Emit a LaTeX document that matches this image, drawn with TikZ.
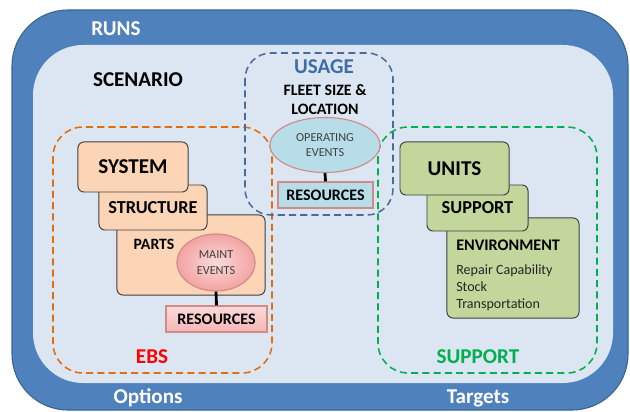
\documentclass[tikz,border=0pt]{standalone}
\usepackage{fontspec}
\setmainfont{Carlito}
\usetikzlibrary{shapes.geometric}

\definecolor{runsblue}{HTML}{4F81BD}
\definecolor{runsedge}{HTML}{3A6595}
\definecolor{scenfill}{HTML}{DCE6F2}
\definecolor{ebsorange}{HTML}{E46C0A}
\definecolor{usageblue}{HTML}{4A6A9C}
\definecolor{usagetext}{HTML}{3F6BA6}
\definecolor{suppgreen}{HTML}{00B050}
\definecolor{peach}{HTML}{FBD5B5}
\definecolor{olive}{HTML}{C3D69B}
\definecolor{palecyan}{HTML}{B7DEE8}
\definecolor{palepink}{HTML}{FADADA}
\definecolor{deeppink}{HTML}{F3A3A3}
\definecolor{pinkedge}{HTML}{D08A88}
\definecolor{boxedge}{HTML}{404040}

\tikzset{
  region/.style={dashed,line width=1.1pt,dash pattern=on 5pt off 3pt,rounded corners=0.75cm},
  tier/.style={draw=boxedge,line width=0.7pt,rounded corners=0.15cm,inner sep=0pt,
    font=\fontsize{13}{15}\selectfont\bfseries},
  event/.style={ellipse,draw=pinkedge,line width=0.8pt,inner sep=0pt,align=center,
    text=black!75,font=\fontsize{8.7}{11}\selectfont},
  resbox/.style={draw=pinkedge,line width=0.8pt,inner sep=0pt,
    font=\fontsize{11.4}{13}\selectfont\bfseries},
  biglabel/.style={font=\fontsize{15}{17}\selectfont\bfseries},
  link/.style={line width=2pt}
}

\begin{document}
\begin{tikzpicture}[x=0.025cm,y=-0.025cm]
    \useasboundingbox (0,0) rectangle (630,412);

    % runs frame and scenario area
    \draw[runsedge,fill=runsblue,line width=0.8pt,rounded corners=1.4cm] (12,10) rectangle (628,410);
    \fill[scenfill,rounded corners=1.25cm] (33,45) rectangle (613,383);

    \node[biglabel,text=white] (runs) at (116,29) {RUNS};
    \node[biglabel,text=white] (options) at (148,398) {Options};
    \node[biglabel,text=white] (targets) at (478,398) {Targets};
    \node[biglabel] (scenario) at (138,80) {SCENARIO};

    % dashed regions
    \draw[region,ebsorange] (53,127) rectangle (272,373);
    \draw[region,usageblue,rounded corners=0.65cm] (245,53) rectangle (393,215);
    \draw[region,suppgreen] (378,127) rectangle (597,373);

    \node[biglabel,text=red] (ebs) at (152,357) {EBS};
    \node[biglabel,text=suppgreen] (supplabel) at (478,357) {SUPPORT};

    % usage
    \node[biglabel,text=usagetext] (usage) at (324,67) {USAGE};
    \node[align=center,font=\fontsize{11.3}{13.5}\selectfont\bfseries] (fleet) at (325,100)
        {FLEET SIZE \&\\LOCATION};
    \node[event,fill=palecyan,minimum width=2.75cm,minimum height=1.375cm] (opev) at (325,145)
        {OPERATING\\EVENTS};
    \node[resbox,fill=palecyan,minimum width=2.375cm,minimum height=0.65cm] (resu) at (325.5,195)
        {RESOURCES};
    \draw[link] (opev.south) -- (resu.north);

    % ebs stack
    \node[tier,fill=peach,minimum width=3.7cm,minimum height=2cm] (parts) at (191,255) {};
    \node[font=\fontsize{11.2}{13}\selectfont\bfseries] (partslabel) at (154,244) {PARTS};
    \node[tier,fill=peach,minimum width=2.7cm,minimum height=1.125cm] (structure) at (153,207.5) {STRUCTURE};
    \node[tier,fill=peach,minimum width=2.75cm,minimum height=1.25cm,
        font=\fontsize{15}{17}\selectfont\bfseries] (system) at (133,167) {SYSTEM};
    \node[event,inner color=palepink,outer color=deeppink,
        minimum width=1.95cm,minimum height=1.425cm] (maint) at (216,262.5) {MAINT\\EVENTS};
    \node[resbox,top color=palepink,bottom color=deeppink!80,
        minimum width=2.525cm,minimum height=0.65cm] (rese) at (216.5,319) {RESOURCES};
    \draw[link] (maint.south) -- (rese.north);

    % support stack
    \node[tier,fill=olive,minimum width=3.3cm,minimum height=2.5cm] (environment) at (513,268) {};
    \node[tier,fill=olive,minimum width=2.525cm,minimum height=1.15cm] (support) at (477.5,208) {SUPPORT};
    \node[tier,fill=olive,minimum width=2.725cm,minimum height=1.325cm,
        font=\fontsize{15}{17}\selectfont\bfseries] (units) at (454.5,168.5) {UNITS};
    \node[anchor=west,font=\fontsize{11.5}{13}\selectfont\bfseries,inner sep=0pt] (envlabel) at (456,245)
        {ENVIRONMENT};
    \node[anchor=north west,align=left,inner sep=0pt,text=black!85,
        font=\fontsize{10}{12.1}\selectfont] (envlist) at (456,264)
        {Repair Capability\\Stock\\Transportation};
\end{tikzpicture}
\end{document}
